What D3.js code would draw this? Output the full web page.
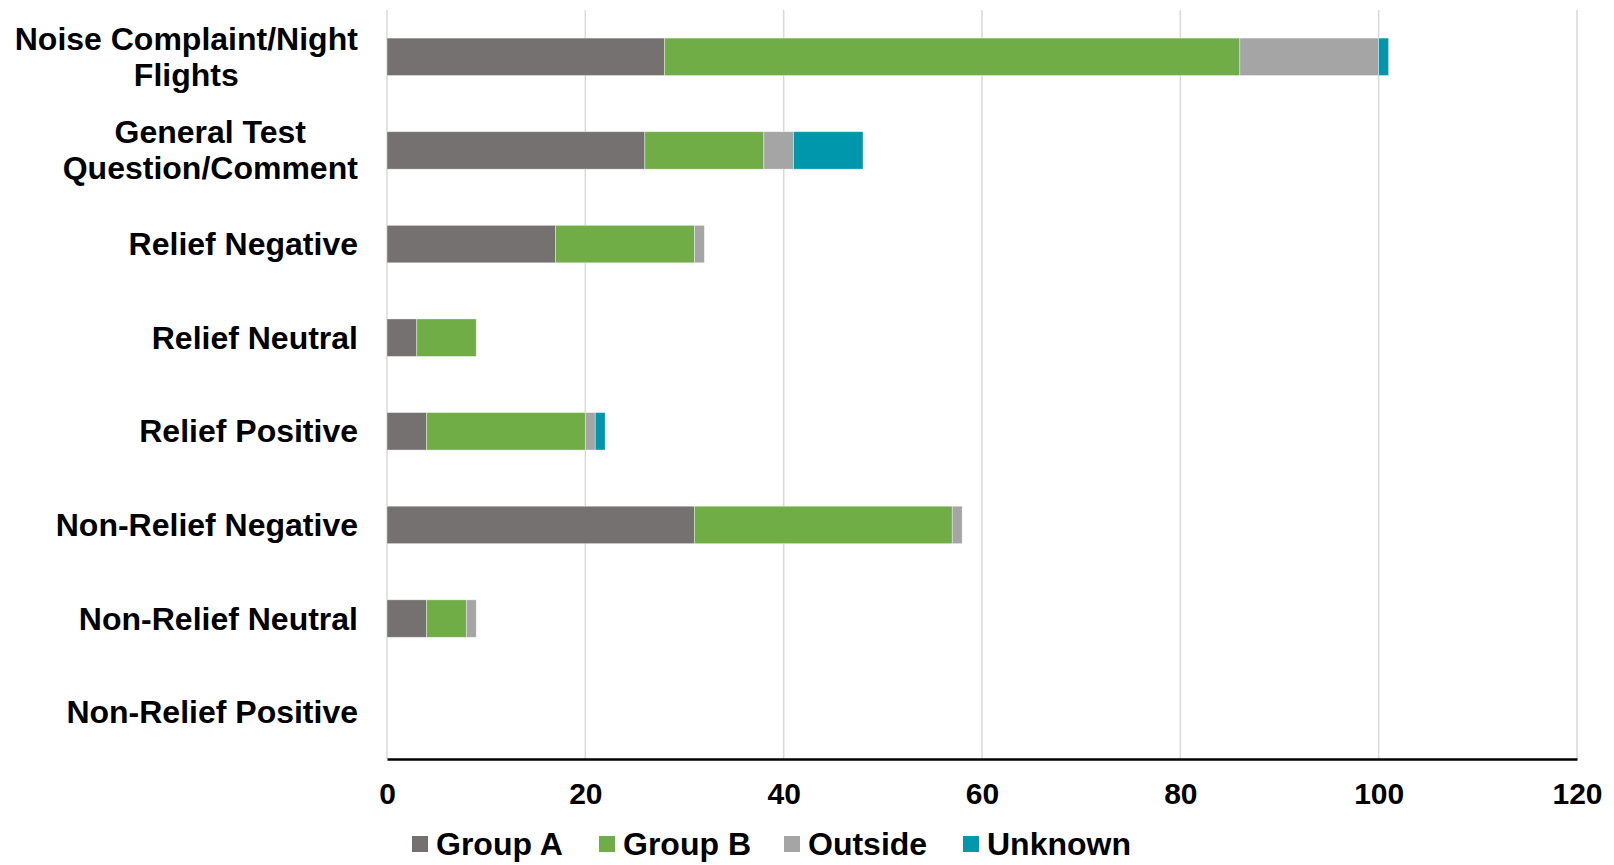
<!DOCTYPE html>
<html>
<head>
<meta charset="utf-8">
<script src="https://cdn.jsdelivr.net/npm/d3@7"></script>
<style>
  html, body { margin: 0; padding: 0; background: #fff; }
  svg text { font-family: "Liberation Sans", Arial, sans-serif; font-weight: bold; fill: #000; }
</style>
</head>
<body>
<svg id="chart" width="1614" height="865"></svg>
<script>
// Categories, top to bottom (each entry may break into lines)
const categories = [
  ["Noise Complaint/Night", "Flights"],
  ["General Test", "Question/Comment"],
  ["Relief Negative"],
  ["Relief Neutral"],
  ["Relief Positive"],
  ["Non-Relief Negative"],
  ["Non-Relief Neutral"],
  ["Non-Relief Positive"]
];
const seriesNames = ["Group A", "Group B", "Outside", "Unknown"];
const groupA  = [28, 26, 17, 3, 4, 31, 4, 0];
const groupB  = [58, 12, 14, 6, 16, 26, 4, 0];
const outside = [14, 3, 1, 0, 1, 1, 1, 0];
const unknown = [1, 7, 0, 0, 1, 0, 0, 0];
const xTicks = [0, 20, 40, 60, 80, 100, 120];
const colors = ["#767171", "#70AD47", "#A5A5A5", "#0097AC"];

const rows = categories.map((c, i) => ({
  key: c.join(" "),
  lines: c,
  "Group A": groupA[i],
  "Group B": groupB[i],
  "Outside": outside[i],
  "Unknown": unknown[i]
}));

const svg = d3.select("#chart");
const plotLeft = 387, plotRight = 1577, plotTop = 10, plotBottom = 759;

const x = d3.scaleLinear().domain([0, 120]).range([plotLeft, plotRight]);
const y = d3.scaleBand().domain(rows.map(d => d.key)).range([plotTop, plotBottom]).paddingInner(0.6).paddingOuter(0.3);
const color = d3.scaleOrdinal().domain(seriesNames).range(colors);

// vertical gridlines
svg.append("g")
  .selectAll("line")
  .data(xTicks)
  .join("line")
  .attr("x1", d => x(d)).attr("x2", d => x(d))
  .attr("y1", plotTop).attr("y2", plotBottom)
  .attr("stroke", "#D9D9D9")
  .attr("stroke-width", 1.5);

// stacked bars
const stacked = d3.stack().keys(seriesNames)(rows);
svg.append("g")
  .selectAll("g")
  .data(stacked)
  .join("g")
  .attr("fill", d => color(d.key))
  .selectAll("rect")
  .data(d => d)
  .join("rect")
  .attr("x", d => x(d[0]))
  .attr("y", d => y(d.data.key))
  .attr("width", d => x(d[1]) - x(d[0]))
  .attr("height", y.bandwidth())
  .attr("stroke", d => (d[1] - d[0]) > 0 ? "rgba(255,255,255,0.5)" : "none")
  .attr("stroke-width", 0.75);

// x axis
const xAxis = svg.append("g")
  .attr("transform", `translate(0,${plotBottom})`)
  .call(d3.axisBottom(x).tickValues(xTicks).tickSize(0).tickPadding(24));
xAxis.select(".domain").attr("stroke", "#000").attr("stroke-width", 2.5);
xAxis.selectAll("text")
  .style("font-size", "30px")
  .style("font-family", "'Liberation Sans', Arial, sans-serif")
  .style("font-weight", "bold")
  .attr("fill", "#000");

// category labels: lines centred on each other, block right-aligned to the plot
const lineH = 36;
const labels = svg.append("g")
  .selectAll("text")
  .data(rows)
  .join("text")
  .attr("text-anchor", "middle")
  .style("font-size", "32px");
labels.each(function(d) {
  const t = d3.select(this);
  const n = d.lines.length;
  const cy = y(d.key) + y.bandwidth() / 2;
  d.lines.forEach((ln, j) => {
    t.append("tspan")
      .attr("x", 0)
      .attr("y", cy + (j - (n - 1) / 2) * lineH + 11)
      .text(ln);
  });
});
labels.each(function() {
  const t = d3.select(this);
  const w = this.getBBox().width;
  t.selectAll("tspan").attr("x", 358 - w / 2);
});

// legend
const legendX = [412, 599, 784, 963];
const legend = svg.append("g")
  .selectAll("g")
  .data(seriesNames)
  .join("g")
  .attr("transform", (d, i) => `translate(${legendX[i]},844)`);
legend.append("rect")
  .attr("x", 0).attr("y", -8).attr("width", 16).attr("height", 16)
  .attr("fill", d => color(d));
legend.append("text")
  .attr("x", 24).attr("y", 11)
  .style("font-size", "32px")
  .text(d => d);
</script>
</body>
</html>
